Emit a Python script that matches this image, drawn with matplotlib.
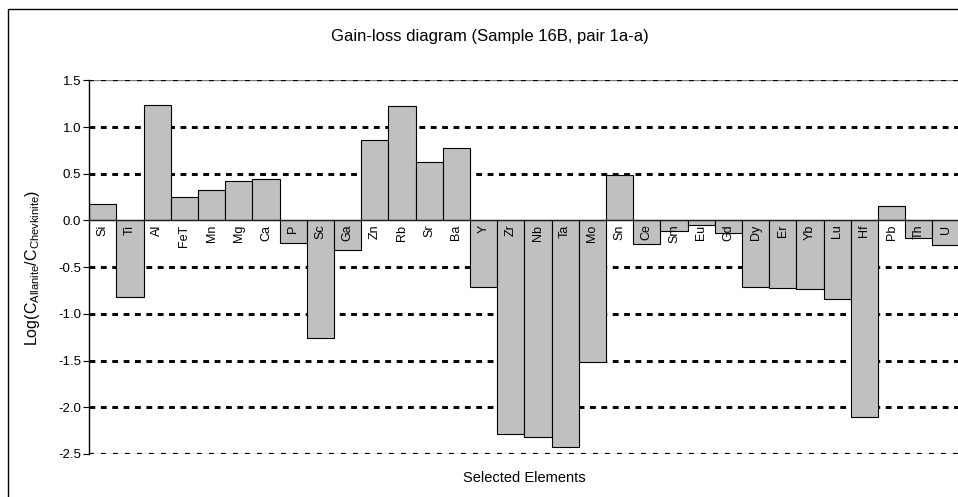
import numpy as np
import matplotlib.pyplot as plt
from matplotlib.patches import Rectangle

plt.rcParams['font.family'] = ['Liberation Sans', 'DejaVu Sans']
plt.rcParams['mathtext.fontset'] = 'custom'
plt.rcParams['mathtext.rm'] = 'Liberation Sans'
plt.rcParams['mathtext.it'] = 'Liberation Sans'

elements = ['Si', 'Ti', 'Al', 'FeT', 'Mn', 'Mg', 'Ca', 'P', 'Sc', 'Ga', 'Zn', 'Rb',
            'Sr', 'Ba', 'Y', 'Zr', 'Nb', 'Ta', 'Mo', 'Sn', 'Ce', 'Sm', 'Eu', 'Gd',
            'Dy', 'Er', 'Yb', 'Lu', 'Hf', 'Pb', 'Th', 'U']
log_ratio = [0.18, -0.82, 1.24, 0.25, 0.33, 0.42, 0.44, -0.24, -1.26, -0.32, 0.86, 1.23,
             0.63, 0.78, -0.71, -2.29, -2.32, -2.42, -1.51, 0.49, -0.25, -0.11, -0.05, -0.13,
             -0.71, -0.72, -0.73, -0.84, -2.10, 0.15, -0.19, -0.26]
yticks = [1.5, 1.0, 0.5, 0.0, -0.5, -1.0, -1.5, -2.0, -2.5]

W, H = 958, 497
fig = plt.figure(figsize=(W / 100, H / 100), dpi=100)
ax = fig.add_axes([89.3 / W, (H - 454) / H, (959.5 - 89.3) / W, (454 - 80.3) / H])

x = np.arange(len(elements))

# dotted gridlines behind the bars
for v in yticks:
    if v == 0:
        continue
    if v in (1.5, -2.5):
        ax.axhline(v, color='#808080', lw=1.0, zorder=0.4)
        ax.axhline(v, color='black', lw=1.6, dashes=(2.2, 3.2), dash_capstyle='butt', zorder=0.5)
    else:
        ax.axhline(v, color='black', lw=2.1, dashes=(2.0, 1.9), dash_capstyle='butt', zorder=0.5)

ax.bar(x, log_ratio, width=1.0, color='#c0c0c0', edgecolor='black', linewidth=0.8, zorder=1)

# category axis crosses at 0
ax.spines['bottom'].set_position(('data', 0))
ax.spines['bottom'].set_color('#202020')
ax.spines['bottom'].set_linewidth(1.0)
ax.spines['top'].set_visible(False)
ax.spines['right'].set_visible(False)
ax.spines['left'].set_linewidth(1.0)

ax.set_xlim(-0.5, len(elements) - 0.5)
ax.set_ylim(-2.5, 1.5)
ax.set_yticks(yticks)
ax.set_yticklabels([f'{v:.1f}' for v in yticks])
ax.tick_params(axis='y', direction='out', length=4, width=0.8, labelsize=9.5, pad=2)

ax.set_xticks(x)
ax.set_xticklabels(elements)
ax.tick_params(axis='x', length=0, pad=3, labelsize=9, labelrotation=90)

fig.text(490 / W, 1 - 37 / H, 'Gain-loss diagram (Sample 16B, pair 1a-a)',
         ha='center', va='center', fontsize=12)
fig.text(524 / W, 1 - 478 / H, 'Selected Elements', ha='center', va='center', fontsize=10.5)
fig.text(33 / W, 1 - 268 / H, r'Log(C$_{\mathrm{Allanite}}$/C$_{\mathrm{Chevkinite}}$)',
         rotation=90, ha='center', va='center', fontsize=11.5)

# outer chart-area border (clipped on right and bottom)
fig.patches.append(Rectangle((8 / W, -0.1), 1.2, 1 - 9 / H + 0.1, transform=fig.transFigure,
                             fill=False, edgecolor='black', lw=1.0))

fig.savefig('out.png', dpi=100)
